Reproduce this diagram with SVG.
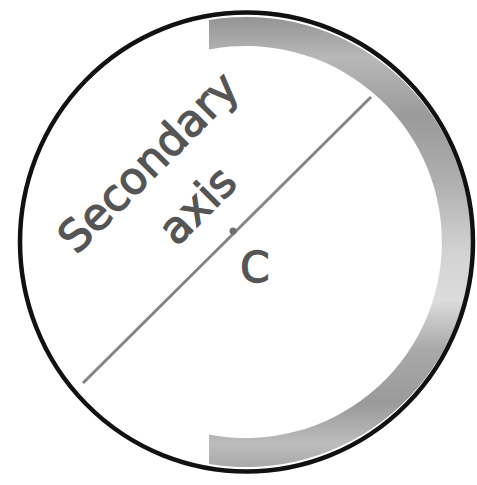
<svg xmlns="http://www.w3.org/2000/svg" width="477" height="485" viewBox="0 0 477 485">
  <defs>
    <linearGradient id="band" gradientUnits="userSpaceOnUse" x1="0" y1="18" x2="0" y2="466">
      <stop offset="0" stop-color="#959595"/>
      <stop offset="0.09" stop-color="#b8b8b8"/>
      <stop offset="0.22" stop-color="#9a9a9a"/>
      <stop offset="0.35" stop-color="#acacac"/>
      <stop offset="0.52" stop-color="#d2d2d2"/>
      <stop offset="0.63" stop-color="#dcdcdc"/>
      <stop offset="0.74" stop-color="#a8a8a8"/>
      <stop offset="0.86" stop-color="#9a9a9a"/>
      <stop offset="0.95" stop-color="#bcbcbc"/>
      <stop offset="1" stop-color="#aaaaaa"/>
    </linearGradient>
    <style>
      .lbl { font-family: "DejaVu Sans", "Liberation Sans", sans-serif; fill: #555555; stroke: #555555; stroke-width: 1.3; }
    </style>
  </defs>
  <rect width="477" height="485" fill="#ffffff"/>
  <g id="band-arc">
    <path d="M 209 20.1 A 225 225 0 1 1 209 463.9 L 209 434.5 A 196 196 0 1 0 209 49.5 Z" fill="url(#band)"/>
  </g>
  <g id="outline">
    <ellipse cx="246.5" cy="242" rx="226.5" ry="229.5" fill="none" stroke="#111" stroke-width="4.5"/>
  </g>
  <g id="connectors">
    <line x1="83" y1="383" x2="371" y2="97" stroke="#858585" stroke-width="3"/>
  </g>
  <g id="center">
    <circle cx="233" cy="231" r="3.5" fill="#707070"/>
    <text class="lbl" x="255" y="282" font-size="42" text-anchor="middle">C</text>
  </g>
  <g id="label">
    <text class="lbl" x="159" y="173" font-size="44" text-anchor="middle" transform="rotate(-45 159 173)">Secondary</text>
    <text class="lbl" x="208" y="216" font-size="44" text-anchor="middle" transform="rotate(-45 208 216)">axis</text>
  </g>
</svg>
